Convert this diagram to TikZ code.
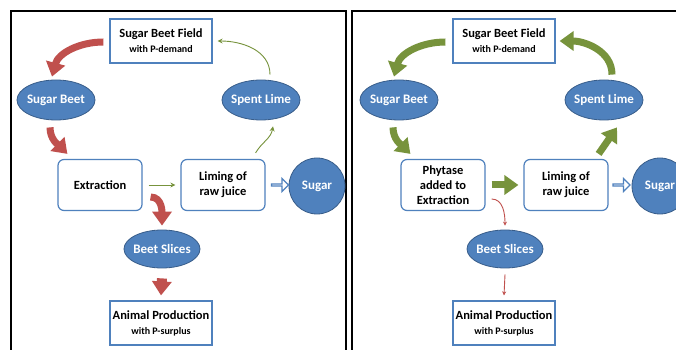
\documentclass[tikz,border=0pt]{standalone}
\usepackage{fontspec}
\setmainfont{Carlito}
\usetikzlibrary{arrows.meta,shapes.geometric,shapes.arrows,calc}
\definecolor{ofblue}{HTML}{4F81BD}
\definecolor{ofblueD}{HTML}{385D8A}
\definecolor{ofred}{HTML}{C0504D}
\definecolor{ofgreen}{HTML}{77933C}
\newcommand{\subtxt}[1]{{\fontsize{10}{12}\selectfont #1}}
\begin{document}
\begin{tikzpicture}[x=1pt,y=1pt,
 every node/.style={font=\bfseries\fontsize{12.5}{15}\selectfont, align=center, inner sep=0pt},
 sqbox/.style={draw=ofblue, line width=1.2pt, fill=white, minimum width=102pt, minimum height=44pt},
 rbox/.style={draw=ofblue, line width=1.2pt, rounded corners=6pt, fill=white, minimum width=84pt, minimum height=51pt},
 oval/.style={ellipse, draw=ofblueD, line width=0.8pt, fill=ofblue, text=white, minimum width=78pt, minimum height=40pt, inner xsep=-3pt, font=\bfseries\fontsize{13}{15}\selectfont},
 disc/.style={circle, draw=ofblueD, line width=0.8pt, fill=ofblue, text=white, minimum size=56pt, font=\bfseries\fontsize{13}{15}\selectfont},
 hollow/.style={single arrow, draw=ofblue, line width=1.1pt, fill=white, minimum height=17pt, minimum width=13pt, single arrow head extend=3pt, inner sep=0pt},
 fatred/.style={draw=ofred, line width=7pt, -{Triangle[width=19pt,length=14pt]}},
 fatgreen/.style={draw=ofgreen, line width=7pt, -{Triangle[width=19pt,length=14pt]}},
 thinred/.style={draw=ofred, line width=0.9pt, -{Stealth[length=4pt,width=4pt]}},
 thingreen/.style={draw=ofgreen, line width=0.9pt, -{Stealth[length=5pt,width=5pt]}},
 frameline/.style={line width=1.8pt, black}
]
\fill[white] (0,0) rectangle (676,350);
\useasboundingbox (0,0) rectangle (676,350);
% frames
\draw[frameline] (11,-5) -- (11,339) -- (346,339) -- (346,-5);
\draw[frameline] (352,-5) -- (352,339) -- (690,339);

% ---------- left panel ----------
\node[sqbox] (fieldL) at (161,309) {Sugar Beet Field\\\subtxt{with P-demand}};
\node[oval] (beetL) at (56,250) {Sugar Beet};
\node[oval] (limeL) at (261,250) {Spent Lime};
\node[rbox] (extrL) at (100,165) {Extraction};
\node[rbox] (limingL) at (223,165) {Liming of\\raw juice};
\node[disc] (sugarL) at (317,164) {Sugar};
\node[oval, minimum width=76pt, minimum height=38pt] (slicesL) at (162,101) {Beet Slices};
\node[sqbox] (animalL) at (161,27) {Animal Production\\\subtxt{with P-surplus}};
\node[hollow] (hollowL) at (279.5,165) {};

\draw[fatred] ($(fieldL.west)+(-6,-1)$) to[out=180,in=75] ($(beetL.north)+(-4,3)$);
\draw[fatred] ($(beetL.south)+(-6,-7)$) to[out=-90,in=135] ($(extrL.north west)+(10,5)$);
\draw[fatred] ($(extrL.east)+(8,-12)$) to[out=0,in=90] ($(slicesL.north)+(0,4)$);
\draw[fatred, line width=10pt] ($(slicesL.south)+(0,-10)$) -- ($(animalL.north)+(0,5)$);
\draw[thingreen] ($(extrL.east)+(6,0)$) -- ($(limingL.west)+(-5,0)$);
\draw[thingreen] ($(limingL.north east)+(-10,6)$) to[out=60,in=-100] ($(limeL.south)+(12,-6)$);
\draw[thingreen] ($(limeL.north)+(9,5)$) to[out=90,in=0] ($(fieldL.east)+(5,0)$);

% ---------- right panel ----------
\node[sqbox] (fieldR) at (504,309) {Sugar Beet Field\\\subtxt{with P-demand}};
\node[oval] (beetR) at (399,250) {Sugar Beet};
\node[oval] (limeR) at (604,250) {Spent Lime};
\node[rbox] (phyR) at (443,165) {Phytase\\added to\\Extraction};
\node[rbox] (limingR) at (566,165) {Liming of\\raw juice};
\node[disc] (sugarR) at (660,164) {Sugar};
\node[oval, minimum width=76pt, minimum height=38pt] (slicesR) at (505,101) {Beet Slices};
\node[sqbox] (animalR) at (504,27) {Animal Production\\\subtxt{with P-surplus}};
\node[hollow] (hollowR) at (621,165) {};

\draw[fatgreen] ($(fieldR.west)+(-7,-1)$) to[out=180,in=75] ($(beetR.north)+(-5,3)$);
\draw[fatgreen] ($(beetR.south)+(-6,-7)$) to[out=-90,in=135] ($(phyR.north west)+(10,5)$);
\draw[fatgreen] ($(phyR.east)+(6,0)$) -- ($(limingR.west)+(-5,0)$);
\draw[fatgreen] ($(limingR.north east)+(-10,5)$) -- ($(limeR.south)+(13,-7)$);
\draw[fatgreen] ($(limeR.north)+(8,5)$) to[out=90,in=0] ($(fieldR.east)+(4,0)$);
\draw[thinred] ($(phyR.east)+(6,-14)$) to[out=0,in=90] ($(slicesR.north)+(0,4)$);
\draw[thinred] ($(slicesR.south)+(0,-6)$) -- ($(animalR.north)+(0,5)$);
\end{tikzpicture}
\end{document}
